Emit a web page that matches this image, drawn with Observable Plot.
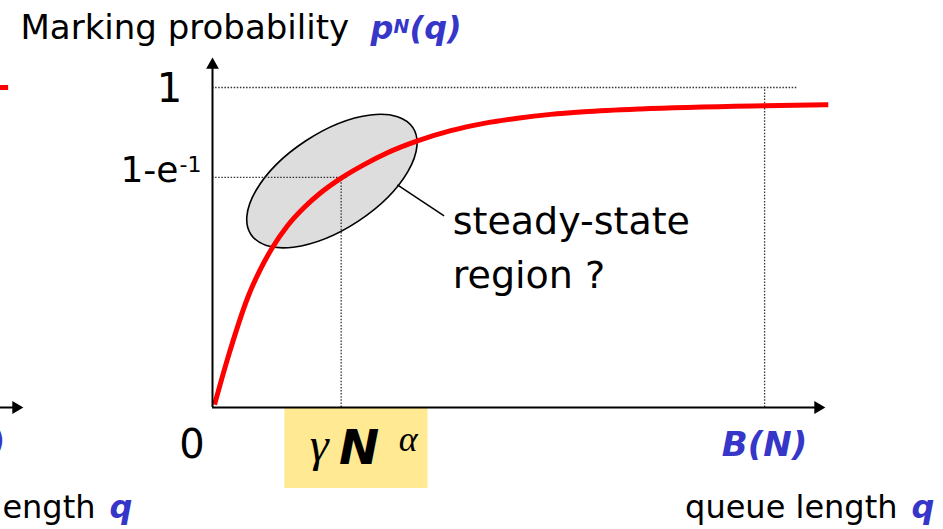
<!DOCTYPE html>
<html><head><meta charset="utf-8">
<script src="https://cdn.jsdelivr.net/npm/d3@7"></script>
<script src="https://cdn.jsdelivr.net/npm/@observablehq/plot@0.6"></script>
<style>html,body{margin:0;padding:0;background:#fff;overflow:hidden} svg{display:block;overflow:visible}</style>
</head><body><div id="chart"></div>
<script>
// ---------- data ----------
// queue length q in units of gamma*N^alpha, marking probability p
const curveQ = [0.016, 0.117, 0.284, 0.375, 0.466, 0.583, 0.712, 0.841, 0.997, 1.178, 1.360, 1.593, 1.852, 2.110, 2.370, 2.629, 2.887, 3.328, 4.289, 4.786];
const curveP = [0.009, 0.152, 0.354, 0.434, 0.500, 0.568, 0.625, 0.671, 0.716, 0.759, 0.796, 0.833, 0.865, 0.888, 0.904, 0.916, 0.924, 0.933, 0.943, 0.946];
const yTickValues = [1, 0.719];
const yTickLabels = ["1", "1-e"];
const yTickExponents = ["", "-1"];
const xTickValues = [0, 1, 4.291];           // 0, gamma N^alpha, B(N)
const xTickLabels = ["0", "γNα", "B(N)"];
const guideYEnd = [4.549, 1.051];             // dotted horizontal guides end (q)
const guideXTop = [0.719, 1];                 // dotted vertical guides top (p) for x = 1 and B(N)
const regionCenter = [0.932, 0.706];          // steady-state ellipse centre (q, p)
const leaderFrom = [1.437, 0.696], leaderTo = [1.8, 0.599];
const regionLabel = "steady-state\nregion ?";
const regionLabelAt = [1.867, 0.375];
const highlightQ = [0.562, 1.675], highlightP = [-0.253, -0.003];
const xMax = 4.78, yMax = 1.1;
const leftCurveEnd = [4.0, 4.649];            // tail of previous panel's curve

const blue = "#3636c8", F = "DejaVu Sans", SERIF = "Liberation Serif";
const shift = -802; // previous (clipped) panel on the left

function ellipseMark(index, scales) {
  const cx = scales.x(regionCenter[0]), cy = scales.y(regionCenter[1]);
  return d3.create("svg:ellipse")
    .attr("cx", cx).attr("cy", cy).attr("rx", 97).attr("ry", 48)
    .attr("transform", `rotate(-33.4 ${cx} ${cy})`)
    .attr("fill", "#dddddd").attr("stroke", "#000").attr("stroke-width", 1.6)
    .node();
}

const curve = curveQ.map((q, i) => ({q, p: curveP[i]}));
const dotted = {stroke: "#333", strokeWidth: 1.3, strokeDasharray: "1.5,1.6"};

const chart = Plot.plot({
  width: 943, height: 529,
  marginLeft: 212, marginRight: 116, marginTop: 55, marginBottom: 122,
  x: {domain: [0, xMax], axis: null},
  y: {domain: [0, yMax], axis: null},
  style: {fontFamily: F, background: "#fff", color: "#000", overflow: "visible"},
  marks: [
    Plot.rect([0], {x1: highlightQ[0], x2: highlightQ[1], y1: highlightP[0], y2: highlightP[1], fill: "#ffe993"}),
    ellipseMark,
    Plot.ruleY(yTickValues, {y: d => d, x1: 0, x2: (d, i) => guideYEnd[i], ...dotted}),
    Plot.ruleX([xTickValues[1], xTickValues[2]], {x: d => d, y1: 0, y2: (d, i) => guideXTop[i], ...dotted}),
    Plot.link([0], {x1: leaderFrom[0], y1: leaderFrom[1], x2: leaderTo[0], y2: leaderTo[1], stroke: "#000", strokeWidth: 1.5}),
    Plot.line(curve, {x: "q", y: "p", stroke: "#ff0000", strokeWidth: 5, curve: "monotone-x", strokeLinecap: "butt"}),
    // axes
    Plot.ruleY([0], {x1: 0, x2: xMax - 0.07, stroke: "#000", strokeWidth: 2}),
    Plot.ruleX([0], {y1: 0, y2: yMax - 0.03, stroke: "#000", strokeWidth: 2}),
    Plot.dot([0], {x: xMax, y: 0, symbol: "triangle2", r: 6.1, rotate: 90, dx: -9.5, fill: "#000", stroke: "none"}),
    Plot.dot([0], {x: 0, y: yMax, symbol: "triangle2", r: 6.1, dy: 9.5, fill: "#000", stroke: "none"}),
    // y tick labels
    Plot.text([yTickLabels[0]], {x: 0, y: yTickValues[0], text: d => d, fontSize: 40, textAnchor: "middle", lineAnchor: "bottom", dx: -43, dy: 14.7}),
    Plot.text([yTickLabels[1]], {x: 0, y: yTickValues[1], text: d => d, fontSize: 36, textAnchor: "end", lineAnchor: "bottom", dx: -34, dy: 5}),
    Plot.text([yTickExponents[1]], {x: 0, y: yTickValues[1], text: d => d, fontSize: 22, textAnchor: "start", lineAnchor: "bottom", dx: -33, dy: -5}),
    // x tick labels
    Plot.text([xTickLabels[0]], {x: xTickValues[0], y: 0, text: d => d, fontSize: 40, textAnchor: "middle", lineAnchor: "bottom", dx: -20.5, dy: 50}),
    Plot.text([xTickLabels[1][0]], {x: xTickValues[1], y: 0, text: d => d, fontFamily: SERIF, fontStyle: "italic", fontSize: 48, textAnchor: "middle", lineAnchor: "bottom", dx: -22, dy: 53}),
    Plot.text([xTickLabels[1][1]], {x: xTickValues[1], y: 0, text: d => d, fontStyle: "italic", fontWeight: "bold", fontSize: 48, textAnchor: "middle", lineAnchor: "bottom", dx: 18, dy: 56}),
    Plot.text([xTickLabels[1][2]], {x: xTickValues[1], y: 0, text: d => d, fontFamily: SERIF, fontStyle: "italic", fontSize: 36, textAnchor: "middle", lineAnchor: "bottom", dx: 67, dy: 43}),
    Plot.text([xTickLabels[2]], {x: xTickValues[2], y: 0, text: d => d, fill: blue, fontStyle: "italic", fontWeight: "bold", fontSize: 34, textAnchor: "middle", lineAnchor: "bottom", dx: 0, dy: 48}),
    // axis titles
    Plot.text(["Marking probability"], {frameAnchor: "top-left", text: d => d, fontSize: 34, textAnchor: "start", lineAnchor: "bottom", dx: -192, dy: -17}),
    Plot.text(["p"], {frameAnchor: "top-left", text: d => d, fill: blue, fontStyle: "italic", fontWeight: "bold", fontSize: 32, textAnchor: "start", lineAnchor: "bottom", dx: 158, dy: -17}),
    Plot.text(["N"], {frameAnchor: "top-left", text: d => d, fill: blue, fontStyle: "italic", fontWeight: "bold", fontSize: 19, textAnchor: "start", lineAnchor: "bottom", dx: 181, dy: -23}),
    Plot.text(["(q)"], {frameAnchor: "top-left", text: d => d, fill: blue, fontStyle: "italic", fontWeight: "bold", fontSize: 32, textAnchor: "start", lineAnchor: "bottom", dx: 197, dy: -17}),
    Plot.text(["queue length"], {frameAnchor: "bottom-right", text: d => d, fontSize: 32, textAnchor: "end", lineAnchor: "bottom", dx: 70, dy: 110}),
    Plot.text(["q"], {frameAnchor: "bottom-right", text: d => d, fill: blue, fontStyle: "italic", fontWeight: "bold", fontSize: 32, textAnchor: "start", lineAnchor: "bottom", dx: 84, dy: 110}),
    // annotation
    Plot.text([regionLabel], {x: regionLabelAt[0], y: regionLabelAt[1], text: d => d, fontSize: 38, textAnchor: "start", lineAnchor: "bottom", lineHeight: 1.42}),
    // clipped previous panel at the left edge
    Plot.ruleY([1], {x1: leftCurveEnd[0], x2: leftCurveEnd[1], dx: shift, stroke: "#ff0000", strokeWidth: 5}),
    Plot.ruleY([0], {x1: 0, x2: xMax - 0.07, dx: shift, stroke: "#000", strokeWidth: 2}),
    Plot.dot([0], {x: xMax, y: 0, symbol: "triangle2", r: 6.1, rotate: 90, dx: -9.5 + shift, fill: "#000", stroke: "none"}),
    Plot.text([xTickLabels[2]], {x: xTickValues[2], y: 0, text: d => d, fill: blue, fontStyle: "italic", fontWeight: "bold", fontSize: 34, textAnchor: "middle", lineAnchor: "bottom", dx: shift, dy: 48}),
    Plot.text(["queue length"], {frameAnchor: "bottom-right", text: d => d, fontSize: 32, textAnchor: "end", lineAnchor: "bottom", dx: 70 + shift, dy: 110}),
    Plot.text(["q"], {frameAnchor: "bottom-right", text: d => d, fill: blue, fontStyle: "italic", fontWeight: "bold", fontSize: 32, textAnchor: "start", lineAnchor: "bottom", dx: 84 + shift, dy: 110})
  ]
});
document.getElementById("chart").append(chart);
</script>
</body></html>
